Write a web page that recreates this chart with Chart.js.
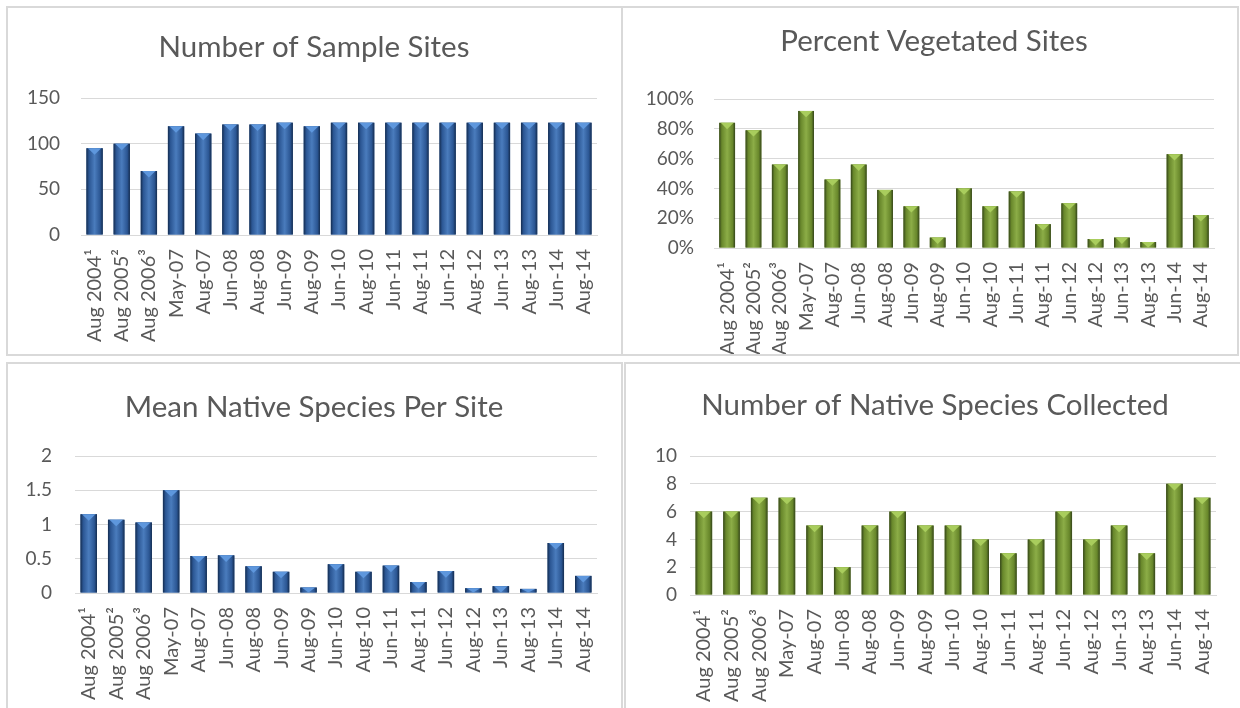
<!DOCTYPE html>
<html>
<head>
<meta charset="utf-8">
<script src="https://cdn.jsdelivr.net/npm/chart.js@4.4.1/dist/chart.umd.min.js"></script>
<style>
  body { margin: 0; background: #fff; width: 1240px; height: 708px; overflow: hidden; position: relative; }
  .panel { position: absolute; border: 2px solid #d9d9d9; box-sizing: border-box; background: #fff; overflow: hidden; }
  .panel canvas { position: absolute; left: 0; top: 0; }
</style>
</head>
<body>
<div class="panel" style="left:6px;top:6px;width:617px;height:350px"><canvas id="c1" width="613" height="346"></canvas></div>
<div class="panel" style="left:621px;top:6px;width:618px;height:350px"><canvas id="c2" width="614" height="346"></canvas></div>
<div class="panel" style="left:6px;top:362px;width:617px;height:352px"><canvas id="c3" width="613" height="348"></canvas></div>
<div class="panel" style="left:624px;top:362px;width:620px;height:352px"><canvas id="c4" width="616" height="348"></canvas></div>
<script>
const categories = ['Aug 2004¹', 'Aug 2005²', 'Aug 2006³', 'May-07', 'Aug-07', 'Jun-08', 'Aug-08', 'Jun-09', 'Aug-09',
  'Jun-10', 'Aug-10', 'Jun-11', 'Aug-11', 'Jun-12', 'Aug-12', 'Jun-13', 'Aug-13', 'Jun-14', 'Aug-14'];

const sampleSites = [95, 100, 70, 119, 111, 121, 121, 123, 119, 123, 123, 123, 123, 123, 123, 123, 123, 123, 123];
const percentVegetated = [0.84, 0.79, 0.56, 0.92, 0.46, 0.56, 0.39, 0.28, 0.07, 0.40, 0.28, 0.38, 0.16, 0.30, 0.06, 0.07, 0.04, 0.63, 0.22];
const meanNative = [1.15, 1.07, 1.03, 1.5, 0.54, 0.55, 0.39, 0.31, 0.08, 0.42, 0.31, 0.40, 0.16, 0.32, 0.07, 0.10, 0.06, 0.73, 0.25];
const nativeCollected = [6, 6, 7, 7, 5, 2, 5, 6, 5, 5, 4, 3, 4, 6, 4, 5, 3, 8, 7];

const titles = ['Number of Sample Sites', 'Percent Vegetated Sites', 'Mean Native Species Per Site', 'Number of Native Species Collected'];

const FONT = 'Lato';
const TEXT = '#595959';
const GRID = '#d9d9d9';
const titleSize = 29.5;
const tickSize = 19;
const catSize = 20;

const blue = { dark: '#142c4f', mid: '#2b5693', light: '#4a7cbd', top: '#5e97dd', base: '#2f5d9a' };
const green = { dark: '#34451a', mid: '#68872b', light: '#8cad47', top: '#a9cd5d', base: '#77963a' };

// shaded bars, drawn over the library's bar elements
const bevel = {
  id: 'bevel',
  afterDatasetsDraw(chart, args, opts) {
    const ctx = chart.ctx;
    const c = opts.colors;
    chart.getDatasetMeta(0).data.forEach(bar => {
      const { x, y, base, width } = bar.getProps(['x', 'y', 'base', 'width'], true);
      const l = x - width / 2, r = x + width / 2, h = base - y;
      if (h <= 0) return;
      const g = ctx.createLinearGradient(l, 0, r, 0);
      g.addColorStop(0, c.dark);
      g.addColorStop(0.16, c.mid);
      g.addColorStop(0.5, c.light);
      g.addColorStop(0.84, c.mid);
      g.addColorStop(1, c.dark);
      ctx.save();
      ctx.fillStyle = g;
      ctx.fillRect(l, y, width, h);
      const t = Math.min(width * 0.4, h);
      ctx.fillStyle = c.top;
      ctx.beginPath();
      ctx.moveTo(l + 1.5, y);
      ctx.lineTo(r - 1.5, y);
      ctx.lineTo(x, y + t);
      ctx.closePath();
      ctx.fill();
      ctx.restore();
    });
  }
};

// lay: ox/oy canvas origin on page, area = [left, top, right, bottom] of plot, titleX/titleY title centre
function makeChart(id, title, values, colors, lay, yTicks) {
  const canvas = document.getElementById(id);
  const w = canvas.width, h = canvas.height;
  const tc = lay.titleX - lay.ox;
  const right = lay.area[2] - lay.ox;
  const padL = Math.max(4, 2 * tc - w);
  const padR = padL + w - 2 * tc;
  const rightWidth = w - padR - right;
  const yWidth = (lay.area[0] - lay.ox) - padL;
  const lh = titleSize * 1.2;
  const tTop = lay.titleY - lay.oy - lh / 2;
  const tBottom = (lay.area[1] - lay.oy) - tTop - lh;
  const xHeight = h - (lay.area[3] - lay.oy);

  return new Chart(canvas.getContext('2d'), {
    type: 'bar',
    data: {
      labels: categories,
      datasets: [{ data: values, backgroundColor: colors.base, barPercentage: 0.6, categoryPercentage: 1, yAxisID: 'y' }]
    },
    plugins: [bevel],
    options: {
      responsive: false,
      animation: false,
      events: [],
      layout: { padding: { left: padL, right: padR, top: 0, bottom: 0 } },
      plugins: {
        legend: { display: false },
        tooltip: { enabled: false },
        title: {
          display: true,
          text: title,
          color: TEXT,
          font: { family: FONT, size: titleSize, weight: 'normal' },
          padding: { top: tTop, bottom: tBottom }
        },
        bevel: { colors }
      },
      scales: {
        x: {
          grid: { display: false },
          border: { display: true, color: GRID, width: 1 },
          ticks: {
            color: TEXT, font: { family: FONT, size: catSize },
            minRotation: 90, maxRotation: 90, autoSkip: false, padding: 6
          },
          afterFit: s => { s.height = xHeight; }
        },
        y: {
          min: yTicks.min, max: yTicks.max,
          grid: { color: GRID, lineWidth: 1, drawTicks: false },
          border: { display: false },
          ticks: {
            stepSize: yTicks.step, color: TEXT, font: { family: FONT, size: tickSize },
            padding: lay.yPad, callback: yTicks.fmt
          },
          afterFit: s => { s.width = yWidth; }
        },
        // empty spacer on the right so the title centres on the panel
        spacer: {
          position: 'right',
          grid: { display: false },
          border: { display: false },
          ticks: { display: false },
          afterFit: s => { s.width = rightWidth; }
        }
      }
    }
  });
}

makeChart('c1', titles[0], sampleSites, blue,
  { ox: 8, oy: 8, area: [81, 98, 597, 235], titleX: 314, titleY: 47, yPad: 21 },
  { min: 0, max: 150, step: 50 });

makeChart('c2', titles[1], percentVegetated, green,
  { ox: 623, oy: 8, area: [714, 99, 1214, 248], titleX: 934, titleY: 41, yPad: 20 },
  { min: 0, max: 1, step: 0.2, fmt: v => Math.round(v * 100) + '%' });

makeChart('c3', titles[2], meanNative, blue,
  { ox: 8, oy: 364, area: [75, 456, 597, 593], titleX: 314, titleY: 407, yPad: 23 },
  { min: 0, max: 2, step: 0.5 });

makeChart('c4', titles[3], nativeCollected, green,
  { ox: 626, oy: 364, area: [690, 456, 1216, 595], titleX: 935, titleY: 405, yPad: 13 },
  { min: 0, max: 10, step: 2 });
</script>
</body>
</html>
